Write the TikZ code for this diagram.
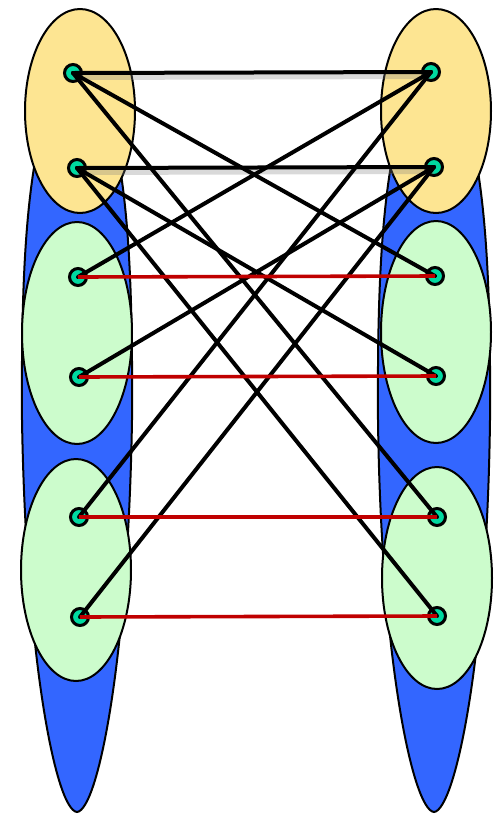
\documentclass[tikz,border=0pt]{standalone}
\usepackage{xcolor}
\usepackage{tikz}
\usetikzlibrary{shapes.geometric}
\definecolor{colblue}{HTML}{3366FF}
\definecolor{colgold}{HTML}{FDE592}
\definecolor{colmint}{HTML}{CCFCCC}
\definecolor{colteal}{HTML}{00D9A0}
\definecolor{colred}{HTML}{C00000}
\begin{document}
\begin{tikzpicture}[
  x=1pt,
  y=-1pt,
  stalk/.style={draw=black, fill=colblue, line width=2pt},
  topgrp/.style={ellipse, draw=black, fill=colgold, line width=2pt, minimum width=110pt, minimum height=204pt, inner sep=0pt},
  subgrp/.style={ellipse, draw=black, fill=colmint, line width=2pt, minimum width=110pt, minimum height=222pt, inner sep=0pt},
  vtx/.style={circle, draw=black, fill=colteal, line width=3pt, minimum size=17pt, inner sep=0pt},
  link/.style={line width=4pt, line cap=round},
  match/.style={draw=colred, line width=3.6pt},
  shade/.style={draw=black!50, line width=6pt, opacity=0.3}
]
\useasboundingbox (0,0) rectangle (496,815);
% long blue groups
\path[stalk] (77,812) .. controls (56,810) and (26,660) .. (22,420) .. controls (21,250) and (27,110) .. (77,50)
  .. controls (127,110) and (133,250) .. (132,420) .. controls (128,660) and (98,810) .. (77,812) -- cycle;
\path[stalk] (434,812) .. controls (413,810) and (381,660) .. (378,420) .. controls (377,250) and (384,110) .. (434,50)
  .. controls (484,110) and (491,250) .. (490,420) .. controls (487,660) and (455,810) .. (434,812) -- cycle;
% inner groups
\node[topgrp] (gl1) at (80,111) {};
\node[subgrp] (gl2) at (77,333) {};
\node[subgrp] (gl3) at (76,570) {};
\node[topgrp] (gr1) at (436,111) {};
\node[subgrp] (gr2) at (436,332) {};
\node[subgrp] (gr3) at (437,578) {};
% vertices
\node[vtx] (l1) at (73,73) {};
\node[vtx] (l2) at (77,168) {};
\node[vtx] (l3) at (78,277) {};
\node[vtx] (l4) at (79,377) {};
\node[vtx] (l5) at (79,517) {};
\node[vtx] (l6) at (80,617) {};
\node[vtx] (r1) at (431,72) {};
\node[vtx] (r2) at (434,167) {};
\node[vtx] (r3) at (435,276) {};
\node[vtx] (r4) at (436,376) {};
\node[vtx] (r5) at (437,517) {};
\node[vtx] (r6) at (437,616) {};
% shadows of the top links
\draw[shade] ([yshift=-4pt]l1.center) -- ([yshift=-4pt]r1.center);
\draw[shade] ([yshift=-4pt]l2.center) -- ([yshift=-4pt]r2.center);
% black links
\draw[link] (l1.center) -- (r1.center);
\draw[link] (l2.center) -- (r2.center);
\draw[link] (l1.center) -- (r3.center);
\draw[link] (l1.center) -- (r5.center);
\draw[link] (l2.center) -- (r4.center);
\draw[link] (l2.center) -- (r6.center);
\draw[link] (r1.center) -- (l3.center);
\draw[link] (r1.center) -- (l5.center);
\draw[link] (r2.center) -- (l4.center);
\draw[link] (r2.center) -- (l6.center);
% red links
\draw[match] (l3.center) -- (r3.center);
\draw[match] (l4.center) -- (r4.center);
\draw[match] (l5.center) -- (r5.center);
\draw[match] (l6.center) -- (r6.center);
\end{tikzpicture}
\end{document}
